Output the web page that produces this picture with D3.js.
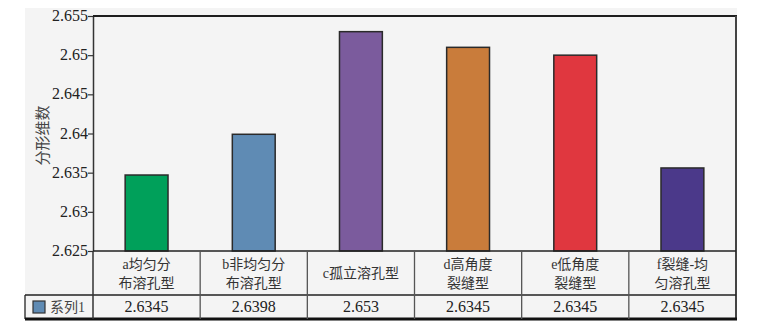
<!DOCTYPE html>
<html>
<head>
<meta charset="utf-8">
<script src="https://cdn.jsdelivr.net/npm/d3@7"></script>
<style>
  body { margin: 0; background: #fff; }
  svg text { font-family: "Liberation Serif", "Noto Sans CJK SC", serif; fill: #222; }
</style>
</head>
<body>
<div id="chart"></div>
<script>
// data
const categories = ["a均匀分\n布溶孔型", "b非均匀分\n布溶孔型", "c孤立溶孔型", "d高角度\n裂缝型", "e低角度\n裂缝型", "f裂缝-均\n匀溶孔型"];
const barValues = [2.6347, 2.6399, 2.653, 2.651, 2.650, 2.6356];
const tableLabels = ["2.6345", "2.6398", "2.653", "2.6345", "2.6345", "2.6345"];
const barColors = ["#00a05a", "#5f8bb4", "#7b5b9d", "#c97c3b", "#e0373f", "#4b398a"];
const yTicks = [2.625, 2.63, 2.635, 2.64, 2.645, 2.65, 2.655];
const yTickLabels = ["2.625", "2.63", "2.635", "2.64", "2.645", "2.65", "2.655"];
const seriesName = "系列1";
const yTitle = "分形维数";

const params = {
    width: 760, height: 332,
    bg: { x: 25, y: 8, right: 737, bottom: 321 },
    plot: { left: 93, top: 16, right: 736, bottom: 251 },
    table: { left: 25, catBottom: 295, bottom: 319 }
};

const svg = d3.select("#chart")
    .append("svg")
    .attr("width", params.width)
    .attr("height", params.height);

svg.append("rect")
    .attr("x", params.bg.x).attr("y", params.bg.y)
    .attr("width", params.bg.right - params.bg.x)
    .attr("height", params.bg.bottom - params.bg.y)
    .attr("fill", "#f4f4f4");

let x = d3.scaleBand().domain(categories).range([params.plot.left, params.plot.right]).padding(0);
let y = d3.scaleLinear().domain([2.625, 2.655]).range([params.plot.bottom, params.plot.top]);

// y axis: line and ticks from d3, labels drawn as serif text
let yAxis = svg.append("g")
    .attr("transform", `translate(${params.plot.left},0)`)
    .call(d3.axisLeft(y).tickValues(yTicks).tickSize(5).tickSizeOuter(0).tickFormat(""));
yAxis.select(".domain").attr("stroke", "#333").attr("stroke-width", 1.5);
yAxis.selectAll(".tick line").attr("stroke", "#333").attr("stroke-width", 1.2);

svg.selectAll(".ylab")
    .data(yTicks)
    .enter().append("text")
    .attr("class", "ylab")
    .attr("x", params.plot.left - 5)
    .attr("y", d => y(d) + 5)
    .attr("text-anchor", "end")
    .attr("font-size", 16)
    .text((d, i) => yTickLabels[i]);

svg.append("text")
    .attr("transform", `translate(48,${(params.plot.top + params.plot.bottom) / 2 + 2}) rotate(-90)`)
    .attr("text-anchor", "middle")
    .attr("font-size", 15)
    .style("fill", "#444")
    .text(yTitle);

// bars
const barW = x.bandwidth() * 0.4;
svg.selectAll(".bar")
    .data(barValues)
    .enter().append("rect")
    .attr("class", "bar")
    .attr("x", (d, i) => x(categories[i]) + (x.bandwidth() - barW) / 2)
    .attr("y", d => y(d))
    .attr("width", barW)
    .attr("height", d => params.plot.bottom - y(d))
    .attr("fill", (d, i) => barColors[i])
    .attr("stroke", "#2a2a2a")
    .attr("stroke-width", 1.5);

// frame: thick top line, right border
svg.append("line")
    .attr("x1", params.plot.left).attr("x2", params.plot.right + 1)
    .attr("y1", params.plot.top).attr("y2", params.plot.top)
    .attr("stroke", "#1e1e1e").attr("stroke-width", 2.2);
svg.append("line")
    .attr("x1", params.plot.right).attr("x2", params.plot.right)
    .attr("y1", params.plot.top).attr("y2", params.table.bottom)
    .attr("stroke", "#444").attr("stroke-width", 2);

// data table
const tbl = svg.append("g");
tbl.append("line")
    .attr("x1", params.plot.left).attr("x2", params.plot.right)
    .attr("y1", params.plot.bottom).attr("y2", params.plot.bottom)
    .attr("stroke", "#222").attr("stroke-width", 1.5);
tbl.append("line")
    .attr("x1", params.table.left).attr("x2", params.plot.right)
    .attr("y1", params.table.catBottom).attr("y2", params.table.catBottom)
    .attr("stroke", "#222").attr("stroke-width", 1.3);
tbl.append("line")
    .attr("x1", params.table.left).attr("x2", params.table.left)
    .attr("y1", params.table.catBottom).attr("y2", params.table.bottom)
    .attr("stroke", "#222").attr("stroke-width", 1.3);
tbl.append("line")
    .attr("x1", params.table.left).attr("x2", params.plot.right + 1)
    .attr("y1", params.table.bottom).attr("y2", params.table.bottom)
    .attr("stroke", "#111").attr("stroke-width", 3);

tbl.selectAll(".vline")
    .data(categories.slice(1))
    .enter().append("line")
    .attr("x1", d => x(d)).attr("x2", d => x(d))
    .attr("y1", params.plot.bottom).attr("y2", params.table.bottom)
    .attr("stroke", "#555").attr("stroke-width", 1.3);
tbl.append("line")
    .attr("x1", params.plot.left).attr("x2", params.plot.left)
    .attr("y1", params.plot.bottom).attr("y2", params.table.bottom)
    .attr("stroke", "#333").attr("stroke-width", 1.5);

// category labels
categories.forEach(function (c, i) {
    const lines = c.split("\n");
    const cx = x(c) + x.bandwidth() / 2;
    const mid = (params.plot.bottom + params.table.catBottom) / 2;
    const t = tbl.append("text")
        .attr("text-anchor", "middle")
        .attr("font-size", 14)
        .style("fill", "#333");
    lines.forEach(function (l, j) {
        t.append("tspan")
            .attr("x", cx)
            .attr("y", mid + 5 + (j - (lines.length - 1) / 2) * 19)
            .text(l);
    });
});

// value row
const rowMid = (params.table.catBottom + params.table.bottom) / 2;
tbl.selectAll(".val")
    .data(tableLabels)
    .enter().append("text")
    .attr("x", (d, i) => x(categories[i]) + x.bandwidth() / 2)
    .attr("y", rowMid + 5)
    .attr("text-anchor", "middle")
    .attr("font-size", 16)
    .text(d => d);

// legend key
tbl.append("rect")
    .attr("x", 33).attr("y", 301).attr("width", 12).attr("height", 12)
    .attr("fill", barColors[1]).attr("stroke", "#333").attr("stroke-width", 1.2);
tbl.append("text")
    .attr("x", 50).attr("y", rowMid + 5)
    .attr("font-size", 14)
    .style("fill", "#444")
    .text(seriesName);
</script>
</body>
</html>
